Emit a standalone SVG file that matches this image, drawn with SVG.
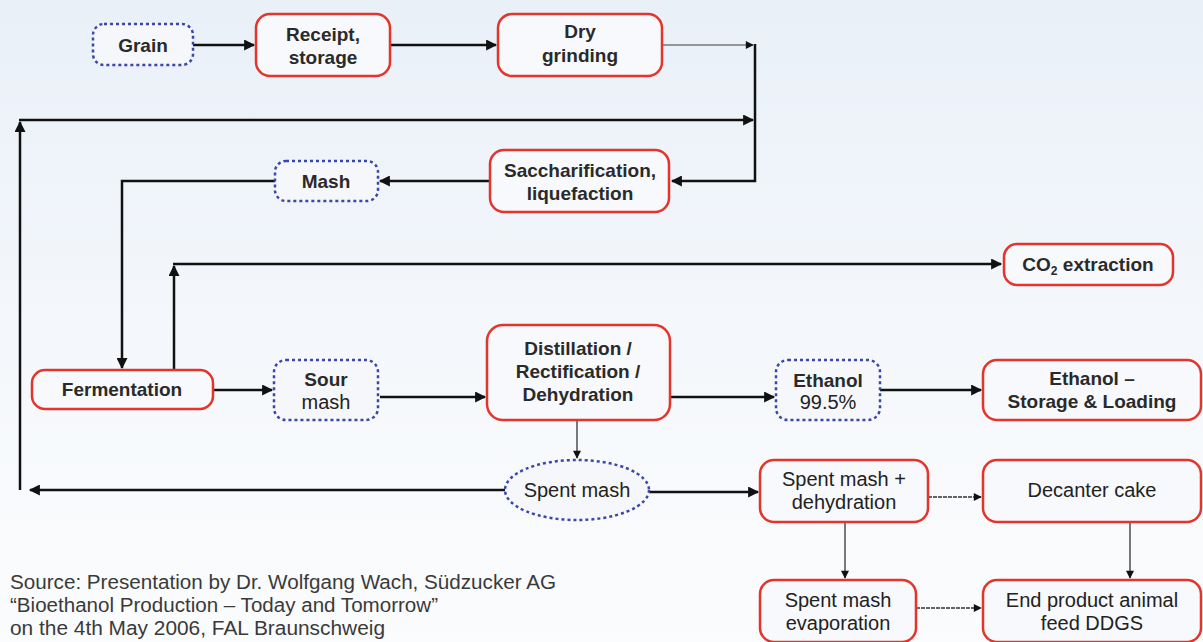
<svg xmlns="http://www.w3.org/2000/svg" width="1203" height="642" viewBox="0 0 1203 642">
<defs>
<linearGradient id="bg" x1="0" y1="0" x2="0" y2="1">
<stop offset="0" stop-color="#e9f0f8"/>
<stop offset="0.5" stop-color="#f4f7fb"/>
<stop offset="1" stop-color="#fbfcfd"/>
</linearGradient>
<marker id="ahs" viewBox="0 0 10 10" refX="9" refY="5" markerWidth="16" markerHeight="11" orient="auto-start-reverse" markerUnits="userSpaceOnUse">
<path d="M0,0 L10,5 L0,10 z" fill="#111"/>
</marker>
<marker id="aht" viewBox="0 0 10 10" refX="9" refY="5" markerWidth="11" markerHeight="8" orient="auto-start-reverse" markerUnits="userSpaceOnUse">
<path d="M0,0 L10,5 L0,10 z" fill="#111"/>
</marker>
</defs>
<style>
.proc{fill:#f7f9fc;stroke:#e3352c;stroke-width:2.5}
.mat{fill:#f5f7fb;stroke:#3a47a8;stroke-width:2.5;stroke-dasharray:3 3}
.t{font-family:"Liberation Sans",Arial,sans-serif;font-size:20px;fill:#222;text-anchor:middle}
.b{font-weight:bold;font-size:19px;fill:#2a2a2a}
.c{fill:none;stroke:#111;stroke-width:2.5}
.thin{fill:none;stroke:#333;stroke-width:1.3}
.src{font-family:"Liberation Sans",Arial,sans-serif;font-size:19.5px;fill:#3a3a3a}
</style>
<rect x="0" y="0" width="1203" height="642" fill="url(#bg)"/>

<g id="connectors">
<line class="c" x1="193" y1="45" x2="254" y2="45" marker-end="url(#ahs)"/>
<line class="c" x1="390" y1="45" x2="496" y2="45" marker-end="url(#ahs)"/>
<line x1="662" y1="45" x2="753" y2="45" stroke="#777" stroke-width="1.5" marker-end="url(#aht)"/>
<polyline class="c" points="755,44 755,181 672,181" marker-end="url(#ahs)"/>
<line class="c" x1="20" y1="490" x2="20" y2="122" marker-end="url(#ahs)"/>
<line class="c" x1="19" y1="120" x2="753" y2="120" marker-end="url(#ahs)"/>
<line class="c" x1="490" y1="181" x2="380" y2="181" marker-end="url(#ahs)"/>
<polyline class="c" points="275,181 122,181 122,368" marker-end="url(#ahs)"/>
<line class="c" x1="174" y1="370" x2="174" y2="266" marker-end="url(#ahs)"/>
<line class="c" x1="173" y1="264" x2="1001" y2="264" marker-end="url(#ahs)"/>
<line class="c" x1="213" y1="390" x2="272" y2="390" marker-end="url(#ahs)"/>
<line class="c" x1="380" y1="397" x2="485" y2="397" marker-end="url(#ahs)"/>
<line class="c" x1="670" y1="397" x2="774" y2="397" marker-end="url(#ahs)"/>
<line class="c" x1="880" y1="390" x2="981" y2="390" marker-end="url(#ahs)"/>
<line class="thin" x1="577" y1="420" x2="577" y2="458" marker-end="url(#aht)"/>
<line class="c" x1="505" y1="490" x2="30" y2="490" marker-end="url(#ahs)"/>
<line class="c" x1="649" y1="492" x2="758" y2="492" marker-end="url(#ahs)"/>
<line class="thin" x1="928" y1="497" x2="981" y2="497" stroke-dasharray="4 1" marker-end="url(#aht)"/>
<line class="thin" x1="845" y1="522" x2="845" y2="578" marker-end="url(#aht)"/>
<line class="thin" x1="1130" y1="522" x2="1130" y2="578" stroke="#777" marker-end="url(#aht)"/>
<line class="thin" x1="916" y1="608" x2="981" y2="608" stroke-dasharray="4 1" marker-end="url(#aht)"/>
</g>

<g id="grain"><rect class="mat" x="93" y="24" width="100" height="41" rx="11"/><text class="t b" x="143" y="52">Grain</text></g>
<g id="receipt"><rect class="proc" x="256" y="14" width="134" height="62" rx="14"/><text class="t b" x="323" y="41">Receipt,</text><text class="t b" x="323" y="64">storage</text></g>
<g id="dry"><rect class="proc" x="498" y="14" width="164" height="62" rx="14"/><text class="t b" x="580" y="38">Dry</text><text class="t b" x="580" y="62">grinding</text></g>
<g id="sacch"><rect class="proc" x="490" y="150" width="179" height="62" rx="14"/><text class="t b" x="580" y="177">Saccharification,</text><text class="t b" x="580" y="200">liquefaction</text></g>
<g id="mash"><rect class="mat" x="275" y="161" width="103" height="40" rx="11"/><text class="t b" x="326" y="188">Mash</text></g>
<g id="co2"><rect class="proc" x="1004" y="244" width="169" height="41" rx="13"/><text class="t b" x="1088" y="271">CO<tspan font-size="12" dy="4">2</tspan><tspan dy="-4"> extraction</tspan></text></g>
<g id="fermentation"><rect class="proc" x="32" y="370" width="181" height="39" rx="13"/><text class="t b" x="122" y="396">Fermentation</text></g>
<g id="sour"><rect class="mat" x="274" y="360" width="104" height="60" rx="12"/><text class="t b" x="326" y="386">Sour</text><text class="t" x="326" y="409">mash</text></g>
<g id="distillation"><rect class="proc" x="487" y="325" width="183" height="95" rx="16"/><text class="t b" x="578" y="355">Distillation /</text><text class="t b" x="578" y="378">Rectification /</text><text class="t b" x="578" y="401">Dehydration</text></g>
<g id="ethanol"><rect class="mat" x="776" y="360" width="104" height="60" rx="12"/><text class="t b" x="828" y="387">Ethanol</text><text class="t" x="828" y="409">99.5%</text></g>
<g id="storage"><rect class="proc" x="983" y="360" width="218" height="60" rx="14"/><text class="t b" x="1092" y="385">Ethanol –</text><text class="t b" x="1092" y="408">Storage &amp; Loading</text></g>
<g id="spentmash"><ellipse class="mat" cx="577" cy="490" rx="72" ry="30"/><text class="t" x="577" y="497">Spent mash</text></g>
<g id="dehyd"><rect class="proc" x="760" y="460" width="168" height="62" rx="14"/><text class="t" x="844" y="486">Spent mash +</text><text class="t" x="844" y="509">dehydration</text></g>
<g id="decanter"><rect class="proc" x="983" y="460" width="218" height="62" rx="14"/><text class="t" x="1092" y="497">Decanter cake</text></g>
<g id="evap"><rect class="proc" x="760" y="580" width="156" height="62" rx="14"/><text class="t" x="838" y="607">Spent mash</text><text class="t" x="838" y="630">evaporation</text></g>
<g id="ddgs"><rect class="proc" x="983" y="580" width="218" height="62" rx="14"/><text class="t" x="1092" y="607">End product animal</text><text class="t" x="1092" y="630">feed DDGS</text></g>

<text class="src" x="10" y="589" textLength="546" lengthAdjust="spacingAndGlyphs">Source: Presentation by Dr. Wolfgang Wach, Südzucker AG</text>
<text class="src" x="10" y="612" textLength="428" lengthAdjust="spacingAndGlyphs">“Bioethanol Production – Today and Tomorrow”</text>
<text class="src" x="10" y="635" textLength="375" lengthAdjust="spacingAndGlyphs">on the 4th May 2006, FAL Braunschweig</text>
</svg>
